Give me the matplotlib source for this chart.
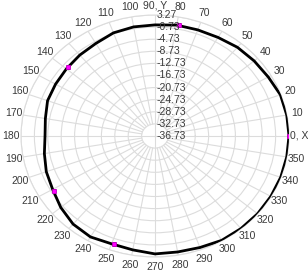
import numpy as np
import matplotlib
matplotlib.use("Agg")
import matplotlib.pyplot as plt
from matplotlib.transforms import offset_copy

plt.rcParams["font.family"] = ["Liberation Sans", "DejaVu Sans"]

# pattern (deg, dB)
angles = [0, 10, 20, 30, 40, 50, 60, 70, 80, 90, 100, 110, 120, 130, 140, 150, 160, 170,
          180, 190, 200, 210, 220, 230, 240, 250, 260, 270, 280, 290, 300, 310, 320, 330,
          340, 350, 360]
gain = [3.27, 3.2, 3.1, 2.3, 1.9, 1.55, 0.9, 0.6, 0.5, 0.0, -0.1, -0.45, -1.4, -1.8,
        -2.2, -2.45, -2.6, -3.5, -3.9, -3.2, -2.2, -1.45, 0.0, 1.3, 1.8, 1.2, 1.5, 2.25,
        2.2, 2.5, 3.1, 3.2, 3.25, 3.2, 3.2, 3.2, 3.27]

mark_angles = [0, 79, 139, 211, 251]
mark_gain = [3.27, 0.55, -2.2, -1.45, 1.1]

r_min, r_max = -36.73, 3.27
r_ticks = [-36.73, -32.73, -28.73, -24.73, -20.73, -16.73, -12.73, -8.73, -4.73, -0.73, 3.27]
r_labels = ["-36.73", "-32.73", "-28.73", "-24.73", "-20.73", "-16.73", "-12.73",
            "-8.73", "-4.73", "-0.73", "3.27"]
theta_ticks = list(range(0, 360, 10))
theta_labels = [str(a) for a in theta_ticks]
theta_labels[0] = "0, X"
theta_labels[9] = "90, Y"

grid_col = "#dcdcdc"
txt_col = "#3a3a3a"

fig = plt.figure(figsize=(3.08, 2.74), dpi=100)
ax = fig.add_axes([21 / 308, 1 - 257 / 274, 268 / 308, 242 / 274], projection="polar")
ax.set_aspect("auto")
ax.set_ylim(r_min, r_max)

# grid: rings + spokes (spokes start at the first ring)
ax.set_yticks(r_ticks[1:])
ax.set_yticklabels([])
ax.yaxis.grid(True, color=grid_col, lw=0.8)
ax.xaxis.grid(False)
ax.set_xticks(np.radians(theta_ticks))
ax.set_xticklabels(theta_labels, fontsize=7.5, color=txt_col)
ax.tick_params(axis="x", pad=-3.5)
for a in theta_ticks:
    lo = r_min if a % 90 == 0 else r_ticks[1]
    ax.plot([np.radians(a)] * 2, [lo, r_max], color=grid_col, lw=0.8, zorder=1)
ax.spines["polar"].set_color(grid_col)
ax.spines["polar"].set_linewidth(0.8)

ax.plot(np.radians(angles), gain, color="black", lw=2, zorder=3)
ax.plot(np.radians(mark_angles), mark_gain, ls="none", marker="s", ms=3,
        mfc="#ff00ff", mec="#c000c0", mew=0.6, zorder=4)

trans = offset_copy(ax.transData, fig=fig, x=2, y=0, units="dots")
for r, lab in zip(r_ticks, r_labels):
    ax.text(np.pi / 2, r, lab, transform=trans, ha="left", va="center",
            fontsize=7.5, color=txt_col, zorder=5)

fig.savefig("out.png", dpi=100)
